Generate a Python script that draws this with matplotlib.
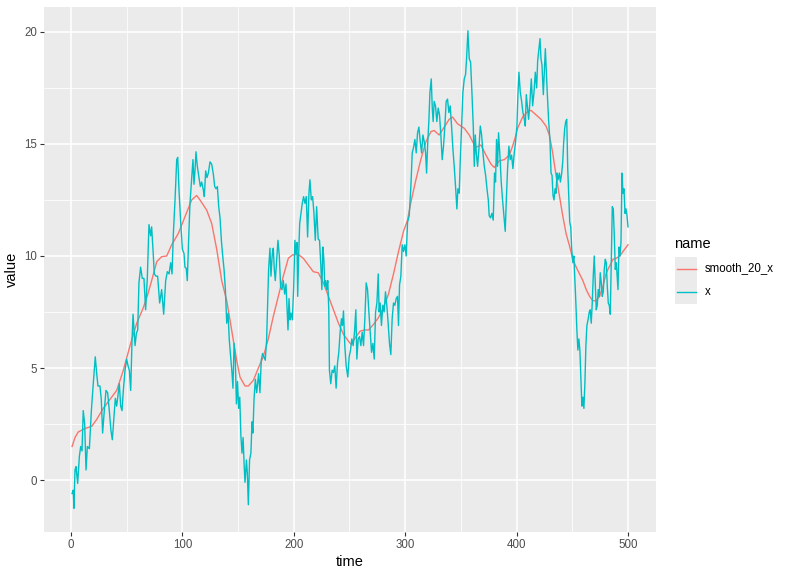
import matplotlib
matplotlib.use("Agg")
import matplotlib.pyplot as plt
from matplotlib.lines import Line2D
from matplotlib.patches import Rectangle

plt.rcParams["font.family"] = ["Liberation Sans", "DejaVu Sans"]

# --- data ---
x_time = [
    1, 2, 2.7, 3.6, 4.5, 6, 7.5, 8.7, 9.9, 11,
    12.3, 13.5, 14.7, 16.5, 18.3, 20, 21.8, 23, 24.2, 26,
    27.2, 28.4, 29.9, 31.4, 32.9, 34.4, 35.9, 37.1, 38.6, 39.8,
    41, 42.5, 43.4, 44.6, 45.8, 47, 48.5, 50, 51.2, 52.4,
    53.6, 54.8, 55.7, 56.6, 57.5, 58.7, 59.9, 61, 62.5, 64,
    65.5, 67, 68.5, 70, 71.5, 72.4, 73.6, 74.8, 76.3, 77.8,
    79.6, 81.4, 83.2, 85, 86.5, 88, 89.5, 90.7, 91.9, 93.4,
    94.9, 95.8, 97, 98.5, 100, 101.5, 102.3, 103.5, 104.4, 105.6,
    106.8, 108.3, 109.5, 110.4, 111.3, 112.2, 113.4, 114.9, 116.1, 117.3,
    118.8, 119.7, 120.9, 122.1, 123.3, 124.8, 126.3, 127.8, 129, 130.2,
    131.4, 132.6, 133.8, 135, 136.2, 137.4, 138.6, 139.8, 141, 142.1,
    143.3, 144.5, 145.4, 146.4, 147.5, 148.5, 149.5, 150.5, 151.5, 152.5,
    153.5, 154.5, 155.5, 156.2, 157.5, 158.3, 159.2, 160.3, 161.5, 162.5,
    163.3, 164.3, 165.5, 166.7, 168.4, 169.6, 170.8, 172, 173.2, 174.4,
    175.6, 176.5, 177.4, 178.6, 179.5, 180.7, 181.6, 182.5, 183.4, 184.6,
    185.8, 187, 188.2, 189.4, 190.6, 191.8, 193, 193.9, 194.8, 195.7,
    196.6, 197.5, 198.7, 199.9, 201, 202, 202.9, 203.5, 204.4, 205.3,
    206.5, 207.6, 208.8, 210, 211.2, 212.4, 213.6, 214.5, 215.7, 216.9,
    218.1, 219.3, 220.5, 221.9, 223.1, 224.3, 225.2, 226.1, 227, 227.8,
    228.7, 229.6, 230.5, 231.4, 232, 233.2, 234.4, 235.6, 236.8, 238,
    239.2, 240.4, 241.6, 242.8, 243.7, 244.6, 245.8, 247, 248.5, 249.7,
    250.9, 252.1, 253.3, 254.5, 255.7, 256.6, 257.8, 259, 260.2, 261.4,
    262.6, 263.8, 265, 266.2, 267.4, 268.6, 269.8, 271, 272.2, 273.4,
    274.6, 275.8, 276.6, 277.5, 278.7, 279.9, 281.1, 282.3, 283.5, 284.7,
    285.9, 287.1, 288.3, 289.5, 290.7, 291.9, 293.1, 294, 294.9, 296.1,
    297.3, 298.5, 299.7, 300.9, 302.1, 303.6, 305.1, 306.3, 307.5, 308.7,
    309.9, 311.1, 312.3, 313.5, 314.7, 315.9, 317.1, 318.3, 319.2, 320.1,
    321.3, 322.2, 323.4, 324.3, 325.1, 326, 327.2, 328.4, 329.6, 330.8,
    332, 333.2, 334.4, 335.6, 336.8, 338, 339.2, 340.4, 341.6, 342.8,
    344, 345.2, 346.4, 347.3, 348.5, 349.4, 350.6, 351.8, 353, 354.2,
    355.1, 356.3, 357.5, 358.7, 359.9, 361.1, 362, 362.9, 363.8, 365,
    366.2, 367.4, 368.6, 369.8, 371, 372.2, 373.4, 374.6, 375.4, 376.6,
    377.8, 379, 380.2, 381.1, 382, 382.9, 383.8, 385, 386.2, 387.4,
    388.6, 389.8, 390.7, 391.9, 393.1, 394.3, 395.5, 396.7, 397.9, 399.1,
    400.3, 401.2, 402.1, 403.3, 404.5, 405.7, 406.9, 407.8, 408.7, 409.9,
    410.8, 412, 413.2, 414.4, 415.6, 416.8, 418, 418.9, 420.1, 421,
    421.9, 422.8, 424, 424.9, 425.8, 426.7, 427.6, 428.8, 430, 430.9,
    431.8, 432.7, 433.6, 434.5, 435.4, 436.3, 437.2, 438.4, 439.3, 440.5,
    441.4, 442.3, 443.2, 444.1, 445, 445.9, 446.8, 447.7, 448.6, 449.5,
    450.5, 451.4, 452.3, 453.2, 454.1, 455, 455.9, 456.8, 457.7, 458.6,
    459.5, 460.4, 461.3, 462.2, 463.1, 464.3, 465.2, 466.1, 467, 467.9,
    468.8, 469.7, 470.6, 471.5, 472.4, 473.3, 474.2, 475.1, 476, 476.9,
    477.8, 478.7, 479.6, 480.5, 481.4, 482.3, 483.2, 484.1, 485, 485.9,
    486.8, 487.7, 488.6, 489.5, 490.4, 491, 491.9, 492.8, 493.7, 494.6,
    495.5, 496.4, 497.3, 498.2, 499.1, 500,
]
x_value = [
    -0.6, -0.45, -1.26, 0.45, 0.6, -0.15, 1.04, 1.5, 1.3, 3.1,
    2.5, 0.45, 1.5, 1.4, 3.1, 4.3, 5.5, 4.8, 4.2, 4.2,
    3.6, 2.1, 3.1, 4.0, 3.9, 3.1, 2.2, 1.8, 2.8, 3.65,
    3.3, 3.9, 4.3, 3.3, 3.1, 4.0, 4.9, 5.4, 5.1, 4.9,
    4.0, 6.25, 7.4, 6.7, 6.0, 6.55, 6.7, 8.8, 9.5, 9.0,
    9.0, 7.6, 9.0, 11.4, 10.9, 11.3, 10.3, 9.2, 9.1, 9.1,
    7.9, 8.5, 7.4, 8.9, 9.3, 9.2, 9.7, 9.2, 11.0, 12.5,
    14.3, 14.4, 12.9, 11.5, 10.3, 10.1, 9.5, 9.45, 8.9, 10.7,
    12.35, 13.4, 14.3, 13.2, 13.8, 14.65, 14.0, 13.5, 13.1, 13.3,
    12.95, 12.65, 13.8, 13.5, 13.7, 14.2, 14.1, 13.65, 13.1, 13.0,
    13.1, 12.2, 11.7, 10.7, 10.0, 9.4, 8.5, 7.0, 7.45, 6.25,
    5.5, 4.8, 4.1, 6.1, 5.35, 3.4, 4.4, 3.2, 3.7, 2.0,
    1.2, 1.9, 0.6, -0.1, 0.9, 0.3, -1.1, 0.9, 1.2, 2.6,
    2.1, 3.6, 4.5, 3.9, 4.75, 3.9, 5.35, 5.65, 5.5, 5.35,
    6.25, 7.75, 9.4, 10.35, 9.1, 10.1, 10.35, 9.4, 8.9, 9.8,
    10.7, 10.0, 8.6, 8.5, 8.9, 8.3, 8.75, 7.75, 6.7, 8.1,
    7.15, 7.45, 7.15, 8.6, 10.7, 10.1, 10.6, 8.2, 10.1, 11.45,
    11.9, 12.35, 12.65, 12.35, 12.65, 10.85, 12.8, 13.4, 12.5, 12.65,
    11.9, 10.7, 12.2, 10.75, 10.7, 9.55, 8.5, 10.4, 9.85, 8.65,
    8.9, 8.5, 8.9, 7.6, 4.9, 4.3, 4.9, 4.8, 5.1, 4.1,
    5.2, 5.7, 6.6, 7.2, 6.9, 7.55, 6.0, 5.1, 4.6, 5.5,
    5.8, 6.3, 6.0, 6.6, 7.6, 5.4, 6.3, 6.4, 6.0, 6.6,
    6.0, 7.2, 8.8, 8.5, 7.5, 6.6, 5.7, 6.1, 5.4, 7.5,
    7.9, 9.2, 7.5, 7.9, 6.9, 7.8, 7.5, 8.4, 7.8, 7.0,
    6.1, 5.6, 7.2, 7.9, 7.8, 8.1, 8.2, 6.9, 8.7, 9.1,
    10.5, 10.2, 10.5, 10.0, 11.5, 11.8, 13.1, 14.6, 14.85, 15.2,
    14.6, 15.5, 15.75, 15.1, 14.6, 15.4, 15.1, 14.6, 13.7, 14.9,
    16.1, 17.3, 17.9, 16.6, 16.0, 16.9, 16.7, 16.0, 16.6, 16.3,
    15.4, 14.3, 14.9, 15.8, 16.9, 17.0, 16.4, 16.7, 15.8, 14.8,
    14.0, 13.1, 12.1, 13.0, 12.8, 14.2, 15.8, 17.3, 17.9, 18.1,
    18.8, 20.05, 18.8, 18.65, 17.3, 15.8, 14.0, 15.4, 14.6, 14.0,
    14.8, 15.8, 15.4, 14.6, 14.0, 13.6, 13.0, 12.5, 11.8, 11.7,
    11.9, 11.6, 13.7, 13.3, 15.2, 14.0, 15.5, 14.5, 13.3, 12.5,
    11.8, 11.1, 12.4, 13.9, 14.9, 14.3, 14.5, 13.9, 14.6, 15.1,
    15.8, 17.2, 18.2, 17.3, 16.9, 16.4, 16.1, 15.8, 17.2, 16.6,
    16.1, 16.9, 17.9, 16.7, 17.3, 18.2, 17.5, 18.7, 19.25, 19.7,
    18.8, 18.5, 17.2, 18.2, 19.25, 18.2, 17.2, 16.0, 15.1, 13.7,
    13.6, 12.7, 12.5, 13.0, 12.8, 13.7, 13.4, 13.7, 13.3, 13.7,
    14.2, 15.1, 15.7, 16.0, 16.1, 13.9, 12.7, 11.5, 11.3, 10.3,
    9.7, 10.0, 9.0, 7.9, 6.7, 5.8, 6.3, 5.8, 4.5, 3.3,
    3.7, 3.2, 4.3, 6.0, 6.9, 7.2, 7.5, 7.6, 7.0, 7.9,
    9.1, 10.0, 8.8, 7.6, 7.8, 8.5, 8.2, 9.25, 8.8, 8.2,
    8.4, 9.4, 9.85, 9.7, 8.65, 7.9, 7.8, 7.4, 9.7, 12.2,
    12.1, 10.9, 9.4, 9.7, 9.0, 8.5, 10.4, 10.0, 10.6, 13.7,
    12.8, 13.0, 11.9, 12.1, 11.8, 11.3,
]

smooth_time = [
    1, 3.6, 6.6, 12.6, 18.6, 23, 29, 35, 41, 47,
    53, 59, 65, 69, 72.4, 77, 81.4, 85.9, 90.4, 96.3,
    102.3, 108.3, 112.8, 115.8, 121.8, 126.3, 130.8, 135.3, 139.8, 142.7,
    145.7, 148.7, 151.7, 156.2, 159.2, 163.7, 168.2, 172.6, 177.1, 181.6,
    186.1, 190.6, 195.1, 199, 204, 208.5, 213, 217.5, 222, 226.6,
    231.1, 235.6, 240.1, 244.6, 249.1, 251.5, 255.1, 259.6, 264.1, 267.1,
    271.6, 276, 280.5, 285, 289.5, 294, 298.5, 302.1, 305.1, 309.6,
    314, 318.6, 323.1, 326, 330.5, 335, 339.5, 342.5, 347, 353,
    357.5, 360.5, 363.5, 368, 372.5, 377, 380, 384.5, 389, 393.4,
    396.4, 399.4, 400.9, 405.4, 409.9, 412.9, 417.4, 421.9, 426.4, 429.4,
    432.4, 435.4, 438.4, 441.4, 444.4, 447.5, 450.5, 453.5, 456.5, 459.5,
    462.5, 465.5, 468.5, 471.5, 474.5, 477.5, 480.5, 483.5, 486.5, 489.5,
    492.5, 495.5, 500,
]
smooth_value = [
    1.5, 1.9, 2.15, 2.3, 2.4, 2.7, 3.2, 3.6, 4.0, 4.9,
    6.0, 7.0, 7.7, 8.3, 8.9, 9.75, 9.97, 10.0, 10.5, 11.0,
    11.75, 12.5, 12.7, 12.5, 12.05, 11.45, 10.3, 8.9, 8.0, 7.15,
    6.25, 5.35, 4.6, 4.2, 4.2, 4.45, 5.0, 5.5, 6.3, 7.3,
    8.2, 9.1, 9.9, 10.05, 10.07, 9.9, 9.6, 9.3, 9.25, 8.8,
    8.2, 7.6, 7.0, 6.5, 6.2, 6.05, 6.35, 6.65, 6.7, 6.7,
    6.95, 7.25, 7.7, 8.3, 9.2, 10.2, 11.1, 11.6, 12.4, 13.4,
    14.3, 15.1, 15.55, 15.6, 15.4, 15.75, 16.1, 16.2, 15.9, 15.7,
    15.4, 15.1, 14.85, 14.95, 14.5, 14.1, 13.95, 14.25, 14.3, 14.5,
    14.9, 15.4, 15.7, 16.2, 16.45, 16.5, 16.3, 16.1, 15.8, 15.4,
    14.6, 13.6, 12.7, 11.8, 11.0, 10.45, 9.85, 9.5, 9.2, 8.9,
    8.5, 8.2, 8.0, 8.0, 8.2, 8.65, 9.25, 9.55, 9.85, 9.9,
    10.0, 10.2, 10.5,
]

series_names = ["smooth_20_x", "x"]
series_colors = ["#F8766D", "#00BFC4"]
x_ticks = [0, 100, 200, 300, 400, 500]
y_ticks = [0, 5, 10, 15, 20]

W, H = 790, 575
fig = plt.figure(figsize=(W / 100, H / 100), dpi=100)
ax = fig.add_axes([44.3 / W, 1 - 532.2 / H, (655.8 - 44.3) / W, (532.2 - 6.9) / H])
ax.set_facecolor("#EBEBEB")

ax.plot(smooth_time, smooth_value, color=series_colors[0], lw=1.0, zorder=3)
ax.plot(x_time, x_value, color=series_colors[1], lw=1.0, zorder=4)

# ggplot-like 5% expansion
all_t = x_time + smooth_time
all_v = x_value + smooth_value
tr = max(all_t) - min(all_t)
vr = max(all_v) - min(all_v)
ax.set_xlim(min(all_t) - 0.05 * tr, max(all_t) + 0.05 * tr)
ax.set_ylim(min(all_v) - 0.05 * vr, max(all_v) + 0.05 * vr)

ax.set_xticks(x_ticks)
ax.set_yticks(y_ticks)
ax.set_xticks([t + 50 for t in x_ticks[:-1]], minor=True)
ax.set_yticks([v + 2.5 for v in y_ticks[:-1]], minor=True)
ax.grid(which="major", color="white", lw=1.1)
ax.grid(which="minor", color="white", lw=0.55)
ax.set_axisbelow(True)
for s in ax.spines.values():
    s.set_visible(False)
ax.tick_params(which="major", length=3, width=0.8, color="#333333",
               labelsize=8.3, labelcolor="#4D4D4D", pad=2)
ax.tick_params(which="minor", length=0)
ax.set_xlabel("time", fontsize=10.5, labelpad=3)
ax.set_ylabel("value", fontsize=10.5, labelpad=4)

# legend drawn in figure pixels (ggplot style)
fig.text(674 / W, 1 - 244 / H, "name", fontsize=10.5, va="center", ha="left")
key_top = 256.7
key_h = 23.7
for i, (name, col) in enumerate(zip(series_names, series_colors)):
    y0 = key_top + i * key_h
    fig.add_artist(Rectangle((675 / W, 1 - (y0 + key_h) / H), 22.3 / W, key_h / H,
                             transform=fig.transFigure, facecolor="#EBEBEB",
                             edgecolor="none"))
    yc = 1 - (y0 + key_h / 2) / H
    fig.add_artist(Line2D([677 / W, 695.5 / W], [yc, yc], transform=fig.transFigure,
                          color=col, lw=1.0))
    fig.text(705 / W, yc, name, fontsize=8.3, va="center", ha="left")

fig.savefig("out.png", dpi=100)
